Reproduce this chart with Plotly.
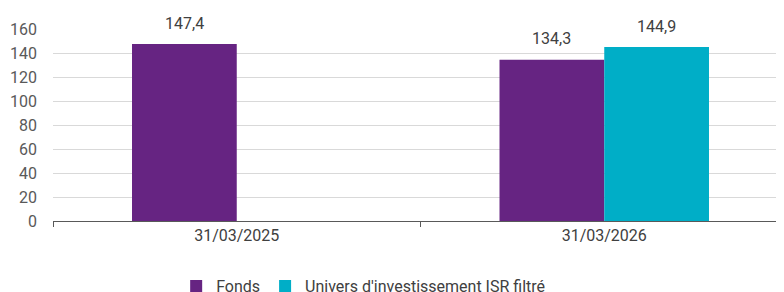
import plotly.graph_objects as go

categories = ["31/03/2025", "31/03/2026"]
fonds = [147.4, 134.3]
univers = [None, 144.9]
series_names = ["Fonds", "Univers d'investissement ISR filtré"]
colors = ["#662482", "#00AEC7"]
y_ticks = [0, 20, 40, 60, 80, 100, 120, 140, 160]

fig = go.Figure()
for name, vals, col in zip(series_names, [fonds, univers], colors):
    fig.add_trace(go.Bar(x=categories, y=vals, name=name, marker_color=col,
                         marker_line_width=0))

# value labels
offsets = [-0.5, 0.5]
for vals, off in zip([fonds, univers], offsets):
    for i, v in enumerate(vals):
        if v is None:
            continue
        fig.add_annotation(x=i, y=v, xref="x", yref="y", text=f"{v:.1f}".replace(".", ","),
                           showarrow=False, yshift=21, xshift=off * 105,
                           font=dict(family="Roboto", size=16, color="#404040"))

# page body has an 8px margin, so the figure is placed at (8, 8)
fig.update_layout(
    width=780, height=284,
    margin=dict(l=45, r=0, t=21, b=71, autoexpand=False),
    paper_bgcolor="white", plot_bgcolor="white",
    barmode="group", bargap=0.43, bargroupgap=0,
    font=dict(family="Roboto", size=16, color="#595959"),
    separators=", ",
    showlegend=True,
    legend=dict(orientation="h", x=0.422, xanchor="center", y=-0.25, yanchor="top",
                font=dict(family="Roboto", size=16, color="#404040"),
                itemwidth=30, traceorder="normal"),
    xaxis=dict(type="category", showline=True, linecolor="#595959", linewidth=1,
               ticks="outside", tickson="boundaries", ticklen=5, tickcolor="#595959",
               tickfont=dict(size=16, color="#404040"), showgrid=False, automargin=False),
    yaxis=dict(range=[0, 160], tickvals=y_ticks, showgrid=True, gridcolor="#d9d9d9",
               gridwidth=1, zeroline=False, tickfont=dict(size=16, color="#595959"),
               ticklabelstandoff=15, automargin=False),
)
fig.write_html("out.html")
